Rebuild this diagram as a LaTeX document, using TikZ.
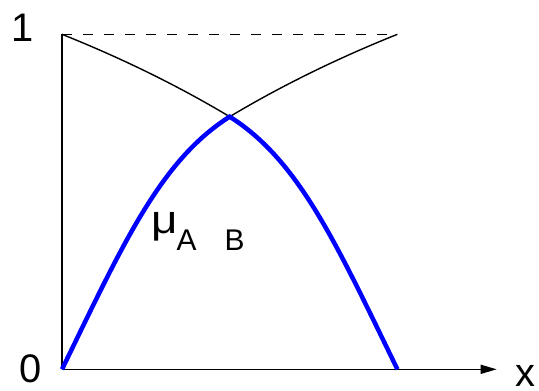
\documentclass[tikz,border=0pt]{standalone}
\usepackage{fontspec}
\setmainfont{Liberation Sans}
\usetikzlibrary{arrows.meta, positioning}

\begin{document}
\begin{tikzpicture}[x=1bp, y=1bp,
  axis/.style={line width=1.4bp},
  memb/.style={line width=1.4bp},
  cut/.style={line width=4.5bp, blue, line join=miter},
  lbl/.style={inner sep=0pt, font=\fontsize{40}{40}\selectfont}]
\useasboundingbox (0,0) rectangle (539,390);
\coordinate (O) at (62,20.7);
\coordinate (Yt) at (62,355.7);
\coordinate (Xe) at (496.7,20.7);
\coordinate (Rt) at (397.4,355.7);
\coordinate (Rb) at (397.4,20.7);
\coordinate (P) at (229.7,273.3);
\node [lbl] (one) at (22.5,362.5) {1};
\node [lbl] (zero) at (30.5,21) {0};
\node [lbl] (xlab) at (525.8,14) {x};
\draw [axis] (O) -- (Yt);
\draw [axis, -{Triangle[length=16bp, width=9bp]}] (O) -- (Xe);
\draw [memb, dash pattern=on 10bp off 11bp] (Yt) -- (Rt);
% upper parts
\draw [memb] (Yt) .. controls (117,333.7) and (174.7,306.3) .. (P);
\draw [memb] (P) .. controls (284.7,306.3) and (342.4,333.7) .. (Rt);
% intersection
\draw [cut] (O) .. controls (122,143.7) and (159.7,229.2) .. (P)
  .. controls (299.7,229.2) and (337.4,143.7) .. (Rb);
\node [lbl, anchor=base west] (mu) at (151,157) {\scalebox{1.15}[1]{μ}\kern-1bp\raisebox{-17bp}{\fontsize{30}{30}\selectfont A\hspace{28bp}B}};
\end{tikzpicture}
\end{document}
